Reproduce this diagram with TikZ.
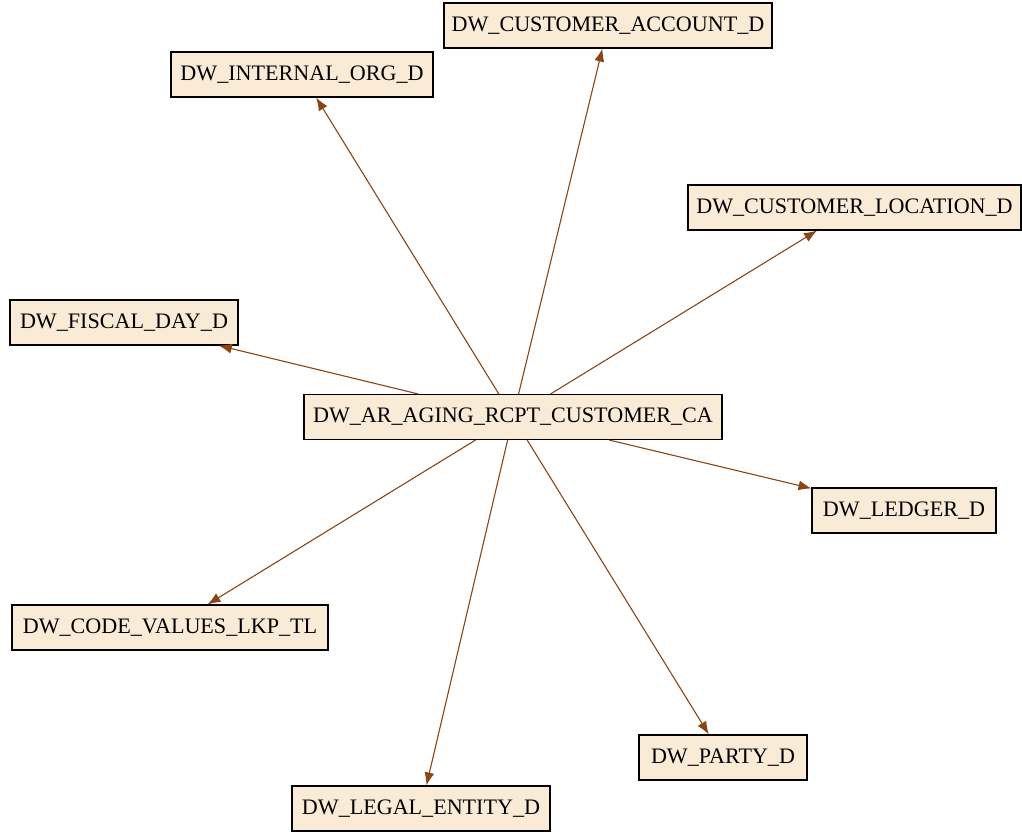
\documentclass[tikz,border=0pt]{standalone}
\usepackage{fontspec}
\setmainfont{Liberation Serif}
\usetikzlibrary{arrows.meta}
\definecolor{boxfill}{RGB}{250,235,215}
\definecolor{edgecol}{RGB}{139,69,19}
\tikzset{
  tbl/.style={draw=black, fill=boxfill, line width=1.1pt, inner sep=0pt, minimum height=45pt,
    font=\fontsize{22.1}{26}\selectfont, anchor=center},
  fk/.style={draw=edgecol, line width=1.1pt, -{Latex[length=13pt,width=10pt]}}
}
\begin{document}
\begin{tikzpicture}[x=1pt,y=-1pt]
\useasboundingbox (0,0) rectangle (1022,832);
\node[tbl, minimum width=418pt] (c) at (513,417) {DW\_AR\_AGING\_RCPT\_CUSTOMER\_CA};
\node[tbl, minimum width=328pt] (ca) at (608,25.5) {DW\_CUSTOMER\_ACCOUNT\_D};
\node[tbl, minimum width=262pt] (io) at (302,74.5) {DW\_INTERNAL\_ORG\_D};
\node[tbl, minimum width=333pt] (cl) at (854.5,207.5) {DW\_CUSTOMER\_LOCATION\_D};
\node[tbl, minimum width=228pt] (fd) at (124,322.5) {DW\_FISCAL\_DAY\_D};
\node[tbl, minimum width=184pt] (ld) at (904,510.5) {DW\_LEDGER\_D};
\node[tbl, minimum width=316pt] (cv) at (170,627.5) {DW\_CODE\_VALUES\_LKP\_TL};
\node[tbl, minimum width=168pt] (pd) at (723,757.5) {DW\_PARTY\_D};
\node[tbl, minimum width=258pt] (le) at (421,808.5) {DW\_LEGAL\_ENTITY\_D};
\draw[fk] (c) -- (ca);
\draw[fk] (c) -- (io);
\draw[fk] (c) -- (cl);
\draw[fk] (c) -- (fd);
\draw[fk] (c) -- (ld);
\draw[fk] (c) -- (cv);
\draw[fk] (c) -- (pd);
\draw[fk] (c) -- (le);
\end{tikzpicture}
\end{document}
